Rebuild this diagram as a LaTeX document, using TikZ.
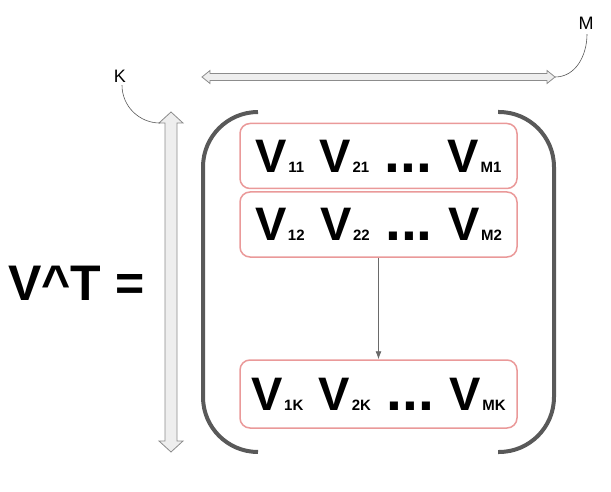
\documentclass[tikz,border=0pt]{standalone}
\usepackage{fontspec}
\setmainfont{Liberation Sans}
\usetikzlibrary{positioning,arrows.meta}
\definecolor{rowred}{HTML}{EA9999}
\definecolor{parengray}{HTML}{595959}
\definecolor{arrowfill}{HTML}{EEEEEE}
\definecolor{arrowline}{HTML}{8C8C8C}
\newcommand{\vel}[1]{V\hspace{1.5pt}{\fontsize{15}{15}\selectfont #1}}
\newcommand{\gp}{\hspace{15.5pt}}
\newcommand{\ddd}{{\fontsize{57}{57}\selectfont ...}}

\begin{document}
\begin{tikzpicture}[x=1pt,y=-1pt]
  \tikzstyle{rowbox}=[draw=rowred, line width=1.5pt, rounded corners=10pt, inner sep=0pt,
    minimum width=277pt, minimum height=65pt, font=\fontsize{47}{47}\selectfont\bfseries]
  \tikzstyle{dimarrow}=[draw=arrowline, fill=arrowfill, line width=0.8pt]
  \tikzstyle{paren}=[draw=parengray, line width=4pt, rounded corners=55pt]
  \tikzstyle{dimlabel}=[inner sep=0pt, anchor=base, font=\fontsize{18}{18}\selectfont]
  \useasboundingbox (0,0) rectangle (611,492);

  \node[inner sep=0pt, anchor=base west, font=\fontsize{50}{50}\selectfont\bfseries]
    (vt) at (8,300) {V\textasciicircum T =};

  % rows of the matrix
  \node[rowbox] (row1) at (378.5,156) {\vel{11}\gp\vel{21}\gp\ddd\gp\vel{M1}};
  \node[rowbox, below=2pt of row1] (row2) {\vel{12}\gp\vel{22}\gp\ddd\gp\vel{M2}};
  \node[rowbox, minimum height=68pt] (row3) at (378.5,394) {\vel{1K}\gp\vel{2K}\gp\ddd\gp\vel{MK}};

  \draw[-{Latex[length=8pt,width=6pt]}, draw=parengray!90, line width=0.8pt] (row2.south) -- (row3.north);

  % brackets
  \draw[paren] (258,112) -- (203,112) -- (203,452) -- (258,452);
  \draw[paren] (498,112) -- (554,112) -- (554,452) -- (498,452);

  % dimension arrows
  \draw[dimarrow] (171,112) -- (183,123) -- (177,123) -- (177,441) -- (183,441) -- (171,452)
    -- (159,441) -- (165,441) -- (165,123) -- (159,123) -- cycle;
  \draw[dimarrow] (202,77) -- (210,70.5) -- (210,73.5) -- (547,73.5) -- (547,70.5) -- (555,77)
    -- (547,83.5) -- (547,80.5) -- (210,80.5) -- (210,83.5) -- cycle;
  \coordinate (ktip) at (160,123);
  \coordinate (mtip) at (555,77);

  % labels
  \node[dimlabel] (klabel) at (120,83) {K};
  \node[dimlabel] (mlabel) at (586,30) {M};
  \draw[parengray, line width=0.6pt] (klabel.south) ++(2,2) to[out=-90, in=180] (ktip);
  \draw[parengray, line width=0.6pt] (mlabel.south) ++(1,4) to[out=-90, in=0] (mtip);

\end{tikzpicture}
\end{document}
